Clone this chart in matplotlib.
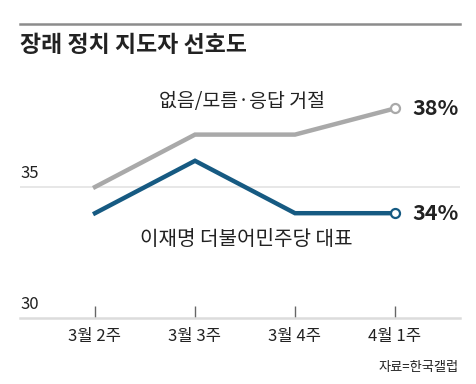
import numpy as np
import matplotlib.pyplot as plt

plt.rcParams['font.family'] = ['Noto Sans CJK KR', 'DejaVu Sans']

# data
weeks = ["3월 2주", "3월 3주", "3월 4주", "4월 1주"]
none_vals = [35, 37, 37, 38]       # 없음/모름·응답 거절
lee_vals = [34, 36, 34, 34]        # 이재명 더불어민주당 대표
none_label = "없음/모름·응답 거절"
lee_label = "이재명 더불어민주당 대표"
yticks = [30, 35]

GRAY = "#a9a9a9"
BLUE = "#165a82"
TXT = "#222222"

fig = plt.figure(figsize=(4.76, 3.84), dpi=100)
fig.patch.set_facecolor("white")

# top rule + title
fig.add_artist(plt.Line2D([20/476, 460/476], [1-24/384, 1-24/384],
                          color="#8c8c8c", lw=1.8, transform=fig.transFigure))
fig.text(20/476, 1-46/384, "장래 정치 지도자 선호도", fontsize=16.5,
         fontweight="bold", color=TXT, va="center", ha="left")

ax = fig.add_axes([20/476, 66/384, 440/476, 262/384])
x = np.arange(len(weeks))
ax.set_xlim(-0.75, 3.65)
ax.set_ylim(30, 40)

# gridline at 35, baseline at 30
ax.axhline(35, color="#e3e3e3", lw=1.2, zorder=0)
for s in ["top", "right", "left"]:
    ax.spines[s].set_visible(False)
ax.spines["bottom"].set_color("#dcdcdc")
ax.spines["bottom"].set_linewidth(1.8)

ax.plot(x, none_vals, color=GRAY, lw=3.2, solid_joinstyle="miter", zorder=3)
ax.plot(x, lee_vals, color=BLUE, lw=3.2, solid_joinstyle="miter", zorder=3)
ax.plot(x[-1], none_vals[-1], "o", ms=6.5, mfc="white", mec=GRAY, mew=1.6, zorder=4)
ax.plot(x[-1], lee_vals[-1], "o", ms=6.5, mfc="white", mec=BLUE, mew=1.6, zorder=4)

ax.set_xticks(x)
ax.set_xticklabels(weeks, fontsize=12, color=TXT)
ax.tick_params(axis="x", direction="in", length=9, width=1, color="#666666", pad=7)
ax.set_yticks([])

for v in yticks:
    ax.text(-0.75, v + 0.18, str(v), fontsize=12, color=TXT, ha="left", va="bottom")

ax.text(x[-1] + 0.17, none_vals[-1], f"{none_vals[-1]}%", fontsize=15.5,
        fontweight="bold", color=TXT, ha="left", va="center")
ax.text(x[-1] + 0.17, lee_vals[-1], f"{lee_vals[-1]}%", fontsize=15.5,
        fontweight="bold", color=TXT, ha="left", va="center")

ax.text(1.47, 38.25, none_label, fontsize=14, color=TXT, ha="center", va="center")
ax.text(1.51, 33.0, lee_label, fontsize=14.5, color=TXT, ha="center", va="center")

fig.text(459/476, 1-368/384, "자료=한국갤럽", fontsize=9.5, color=TXT,
         ha="right", va="center")

fig.savefig("out.png", dpi=100)
